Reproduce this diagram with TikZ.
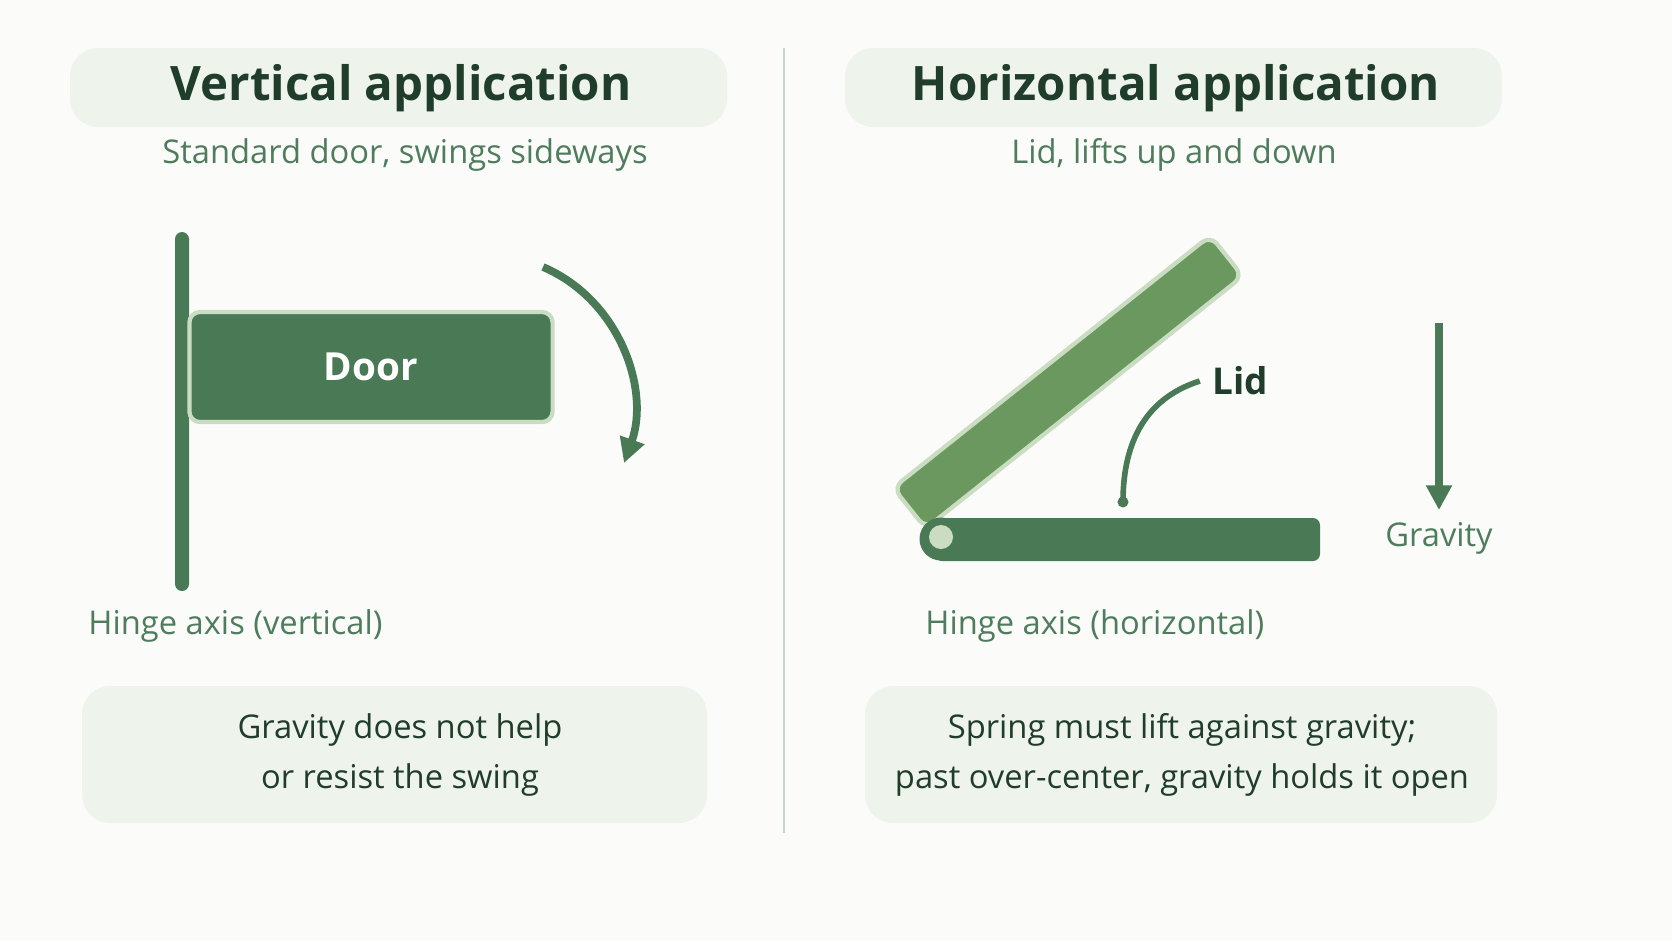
\documentclass[tikz,border=0pt]{standalone}
\usepackage{fontspec}
\setmainfont{Open Sans}
\usetikzlibrary{arrows.meta}
\definecolor{bgc}{HTML}{FBFCFA}
\definecolor{boxc}{HTML}{EEF3EC}
\definecolor{darkc}{HTML}{1F3D2A}
\definecolor{midc}{HTML}{4F7C5C}
\definecolor{barc}{HTML}{4A7A55}
\definecolor{lidc}{HTML}{6A985E}
\definecolor{edgec}{HTML}{CADDC2}
\definecolor{linec}{HTML}{C9D3CB}
\tikzset{
    panel/.style={fill=boxc, rounded corners=8pt, draw=none},
    title/.style={font=\fontsize{13.5}{16}\selectfont\bfseries, text=darkc},
    sub/.style={font=\fontsize{9.3}{12}\selectfont, text=midc},
    note/.style={font=\fontsize{9.3}{14}\selectfont, text=darkc, align=center},
    arr/.style={draw=barc, line width=2.2pt, -{Triangle[length=7pt,width=7pt]}}
}
\begin{document}
\begin{tikzpicture}[x=0.01cm, y=-0.01cm]
                \useasboundingbox (0,0) rectangle (1672,941);
                \fill[bgc] (0,0) rectangle (1672,941);
                \draw[linec, line width=0.8pt] (784,48) -- (784,833);
                % left panel
                \fill[panel] (70,48) rectangle (727,127);
                \node[title] (vtitle) at (401,88) {Vertical application};
                \node[sub] (vsub) at (405,155) {Standard door, swings sideways};
                \fill[barc, rounded corners=2pt] (175,232) rectangle (189,591);
                \node[draw=edgec, line width=1.2pt, fill=barc, rounded corners=3pt, minimum width=3.63cm, minimum height=1.1cm, text=white, font=\fontsize{11}{13}\selectfont\bfseries] (door) at (371,367) {Door};
                \coordinate (swingA) at (543,267);
                \coordinate (swingB) at (624,463);
                \draw[arr] (swingA) .. controls (620,300) and (650,390) .. (swingB);
                \node[sub, anchor=west] (vaxis) at (76,626) {Hinge axis (vertical)};
                \fill[panel] (82,686) rectangle (707,823);
                \node[note] (vnote) at (400,755) {Gravity does not help\\or resist the swing};
                % right panel
                \fill[panel] (845,48) rectangle (1502,127);
                \node[title] (htitle) at (1176,88) {Horizontal application};
                \node[sub] (hsub) at (1174,155) {Lid, lifts up and down};
                \fill[barc, rounded corners=2pt] (935,518) rectangle (1320,561);
                \node[draw=edgec, line width=1.2pt, fill=lidc, rounded corners=3pt, minimum width=4.05cm, minimum height=0.52cm, rotate=38.5] (lid) at (1068,382) {};
                \fill[barc] (941,539) circle (21.5);
                \fill[edgec] (941,537) circle (12);
                \node[font=\fontsize{10.5}{12}\selectfont\bfseries, text=darkc] (lidlbl) at (1240,381) {Lid};
                \coordinate (liddot) at (1123,502);
                \draw[barc, line width=1.6pt] (lidlbl.west) .. controls (1140,400) and (1123,450) .. (liddot);
                \fill[barc] (liddot) circle (5.5);
                \coordinate (gtop) at (1439,323);
                \coordinate (gbot) at (1439,510);
                \draw[arr] (gtop) -- (gbot);
                \node[sub] (grav) at (1439,538) {Gravity};
                \node[sub, anchor=west] (haxis) at (913,626) {Hinge axis (horizontal)};
                \fill[panel] (865,686) rectangle (1497,823);
                \node[note] (hnote) at (1182,755) {Spring must lift against gravity;\\past over-center, gravity holds it open};
\end{tikzpicture}
\end{document}
